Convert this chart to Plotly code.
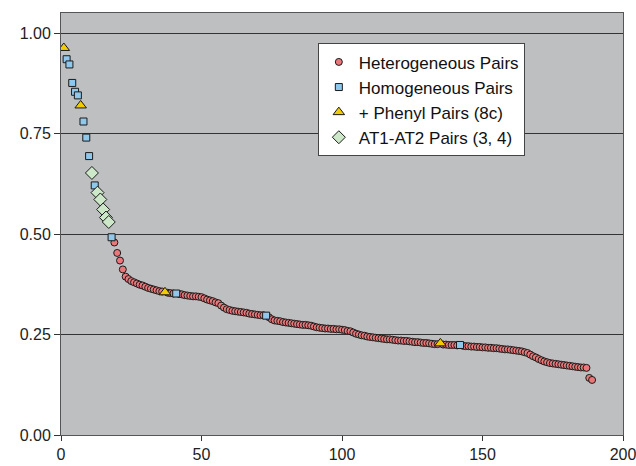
import plotly.graph_objects as go

# ---- data ----
het_x = list(range(19, 37)) + [38, 39, 40] + list(range(42, 73)) + list(range(74, 135)) + \
        list(range(136, 142)) + list(range(143, 190))
het_y = [
    0.479, 0.453, 0.434, 0.412, 0.394, 0.388, 0.383, 0.380, 0.377, 0.374,   # 19-28
    0.372, 0.369, 0.366, 0.364, 0.362, 0.360, 0.358, 0.357,                 # 29-36
    0.354, 0.353, 0.352,                                                    # 38-40
    0.351, 0.350, 0.348, 0.347, 0.346, 0.345, 0.345, 0.344, 0.343, 0.340,   # 42-51
    0.337, 0.335, 0.333, 0.330, 0.328, 0.322, 0.317, 0.313, 0.311, 0.309,   # 52-61
    0.308, 0.307, 0.306, 0.305, 0.304, 0.302, 0.301, 0.300, 0.299, 0.298,   # 62-71
    0.298,                                                                  # 72
    0.293, 0.288, 0.285, 0.284, 0.283, 0.281, 0.280, 0.279, 0.278, 0.277,   # 74-83
    0.276, 0.275, 0.274, 0.274, 0.273, 0.272, 0.270, 0.268, 0.267, 0.266,   # 84-93
    0.265, 0.265, 0.264, 0.264, 0.263, 0.263, 0.262, 0.261, 0.259, 0.258,   # 94-103
    0.255, 0.252, 0.250, 0.248, 0.247, 0.245, 0.244, 0.243, 0.242, 0.241,   # 104-113
    0.240, 0.239, 0.238, 0.238, 0.237, 0.236, 0.235, 0.235, 0.234, 0.234,   # 114-123
    0.233, 0.232, 0.231, 0.231, 0.230, 0.229, 0.229, 0.228, 0.227, 0.226,   # 124-133
    0.226,                                                                  # 134
    0.225, 0.225, 0.224, 0.224, 0.224, 0.223,                               # 136-141
    0.222, 0.221, 0.221, 0.220, 0.220, 0.219, 0.219, 0.218, 0.218, 0.217,   # 143-152
    0.217, 0.216, 0.216, 0.215, 0.214, 0.213, 0.213, 0.212, 0.211, 0.210,   # 153-162
    0.209, 0.208, 0.206, 0.204, 0.200, 0.196, 0.193, 0.189, 0.186, 0.183,   # 163-172
    0.181, 0.179, 0.178, 0.177, 0.176, 0.175, 0.174, 0.173, 0.172, 0.171,   # 173-182
    0.170, 0.169, 0.168, 0.168, 0.167, 0.142, 0.137,                        # 183-189
]

hom_x = [2, 3, 4, 5, 6, 8, 9, 10, 12, 18, 41, 73, 142]
hom_y = [0.935, 0.922, 0.876, 0.854, 0.845, 0.780, 0.740, 0.694, 0.621, 0.492, 0.352, 0.297, 0.224]

phe_x = [1, 7, 37, 135]
phe_y = [0.963, 0.820, 0.355, 0.228]

at_x = [11, 13, 14, 15, 16, 17]
at_y = [0.652, 0.603, 0.586, 0.561, 0.541, 0.530]

names = ["Heterogeneous Pairs", "Homogeneous Pairs", "+ Phenyl Pairs (8c)", "AT1-AT2 Pairs (3, 4)"]
x_ticks = [0, 50, 100, 150, 200]
y_ticks = [0.0, 0.25, 0.5, 0.75, 1.0]

edge = dict(color="#1a1a1a", width=1)

fig = go.Figure()
fig.add_trace(go.Scatter(x=het_x, y=het_y, mode="markers", name=names[0],
                         marker=dict(symbol="circle", size=7, color="#E8787A", line=edge)))
fig.add_trace(go.Scatter(x=hom_x, y=hom_y, mode="markers", name=names[1],
                         marker=dict(symbol="square", size=7, color="#90C8EC", line=edge)))
fig.add_trace(go.Scatter(x=phe_x, y=phe_y, mode="markers", name=names[2],
                         marker=dict(symbol="triangle-up", size=10, color="#F2CC00", line=edge)))
fig.add_trace(go.Scatter(x=at_x, y=at_y, mode="markers", name=names[3],
                         marker=dict(symbol="diamond", size=10, color="#CDE8C8", line=edge)))

fig.update_layout(
    width=636, height=466,
    margin=dict(l=61, r=13, t=13, b=31, autoexpand=False),
    paper_bgcolor="white",
    plot_bgcolor="#BEBFC1",
    font=dict(family="Liberation Sans, Arial, sans-serif", size=16, color="#222222"),
    showlegend=True,
    legend=dict(x=0.457, y=0.928, xanchor="left", yanchor="top",
                bgcolor="white", bordercolor="#444444", borderwidth=1,
                font=dict(size=17, color="#111111"), itemwidth=30, tracegroupgap=0),
)
fig.update_xaxes(range=[0, 200], tickvals=x_ticks, ticks="outside", ticklen=5,
                 tickcolor="#333333", showgrid=False, zeroline=False, automargin=False,
                 ticklabeloverflow="allow",
                 showline=True, linecolor="#555555", linewidth=1, mirror=True)
fig.update_yaxes(range=[0, 1.05], tickvals=y_ticks, tickformat=".2f", ticks="outside",
                 ticklen=6, tickcolor="#333333", showgrid=True, gridcolor="#333333",
                 gridwidth=1, zeroline=False, automargin=False,
                 showline=True, linecolor="#555555", linewidth=1, mirror=True)

# remove the default page margin so the figure sits at the window's top-left corner
fig.write_html("out.html",
               config={"displayModeBar": False},
               post_script="document.body.style.margin='0';document.body.style.overflow='hidden';")
